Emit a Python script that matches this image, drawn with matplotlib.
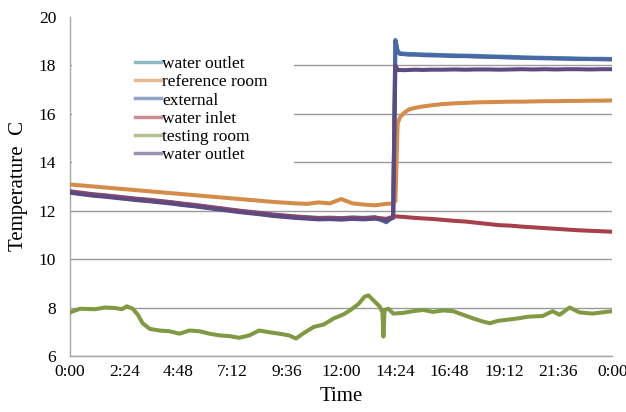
#!/usr/bin/env python3
import matplotlib
matplotlib.use('Agg')
import matplotlib.pyplot as plt
import matplotlib.patches as patches

matplotlib.rcParams['font.family'] = ['Liberation Serif', 'DejaVu Serif']

# time axis in hours (0:00 .. 0:00 next day)
hours = [0, 0.5, 1, 1.5, 2, 2.5, 3, 3.5, 4, 4.5, 5, 5.5, 6, 6.5, 7, 7.5, 8, 8.5, 9, 9.5,
         10, 10.5, 11, 11.5, 12, 12.5, 13, 13.5, 14, 14.3, 14.4, 14.5, 14.6, 14.8, 15.0,
         15.3, 15.6, 16, 16.5, 17, 17.5, 18, 18.5, 19, 19.5, 20, 20.5, 21, 21.5, 22,
         22.5, 23, 23.5, 24]

water_outlet = [12.76, 12.70, 12.64, 12.60, 12.55, 12.50, 12.45, 12.41, 12.36, 12.31,
                12.25, 12.20, 12.14, 12.08, 12.02, 11.96, 11.91, 11.86, 11.80, 11.76,
                11.72, 11.69, 11.66, 11.67, 11.65, 11.68, 11.66, 11.69, 11.64, 11.72,
                19.05, 18.60, 18.50, 18.48, 18.47, 18.46, 18.45, 18.44, 18.42, 18.41,
                18.40, 18.39, 18.37, 18.36, 18.35, 18.33, 18.32, 18.31, 18.30, 18.29,
                18.28, 18.27, 18.27, 18.26]

reference_room = [13.08, 13.04, 13.00, 12.96, 12.92, 12.88, 12.84, 12.80, 12.76, 12.72,
                  12.68, 12.64, 12.60, 12.56, 12.52, 12.48, 12.44, 12.40, 12.36, 12.33,
                  12.30, 12.28, 12.34, 12.30, 12.48, 12.30, 12.25, 12.22, 12.28, 12.30,
                  12.40, 15.60, 15.85, 16.05, 16.18, 16.25, 16.30, 16.35, 16.40, 16.43,
                  16.45, 16.47, 16.48, 16.49, 16.50, 16.50, 16.51, 16.52, 16.52, 16.53,
                  16.53, 16.54, 16.54, 16.55]

external = [12.80, 12.74, 12.68, 12.64, 12.59, 12.54, 12.49, 12.45, 12.40, 12.35,
            12.29, 12.24, 12.18, 12.12, 12.06, 12.00, 11.95, 11.90, 11.84, 11.80,
            11.76, 11.73, 11.70, 11.71, 11.69, 11.72, 11.70, 11.73, 11.52, 11.76,
            19.00, 18.55, 18.47, 18.46, 18.44, 18.44, 18.42, 18.41, 18.40, 18.38,
            18.38, 18.36, 18.35, 18.34, 18.32, 18.31, 18.30, 18.29, 18.28, 18.27,
            18.26, 18.26, 18.25, 18.24]

water_inlet = [12.78, 12.72, 12.66, 12.62, 12.57, 12.52, 12.47, 12.43, 12.38, 12.33,
               12.27, 12.22, 12.16, 12.10, 12.04, 11.98, 11.93, 11.88, 11.82, 11.78,
               11.74, 11.71, 11.68, 11.69, 11.67, 11.70, 11.68, 11.71, 11.66, 11.75,
               11.76, 11.76, 11.75, 11.74, 11.72, 11.70, 11.68, 11.66, 11.62, 11.58,
               11.55, 11.50, 11.45, 11.40, 11.38, 11.34, 11.31, 11.28, 11.25, 11.22,
               11.19, 11.17, 11.15, 11.13]

water_outlet2 = [12.74, 12.68, 12.62, 12.58, 12.53, 12.48, 12.43, 12.39, 12.34, 12.29,
                 12.23, 12.18, 12.12, 12.06, 12.00, 11.94, 11.89, 11.84, 11.78, 11.74,
                 11.70, 11.67, 11.64, 11.65, 11.63, 11.66, 11.64, 11.67, 11.60, 11.70,
                 18.00, 17.80, 17.81, 17.80, 17.81, 17.82, 17.81, 17.82, 17.82, 17.83,
                 17.82, 17.83, 17.83, 17.82, 17.83, 17.84, 17.83, 17.84, 17.83, 17.84,
                 17.84, 17.83, 17.84, 17.84]

# testing room has its own, finer time base
hours_test = [0, 0.44, 1.1, 1.54, 1.98, 2.29, 2.51, 2.77, 3.0, 3.21, 3.52, 3.96, 4.4,
              4.84, 5.28, 5.73, 6.17, 6.61, 7.05, 7.49, 7.93, 8.37, 8.81, 9.25, 9.69,
              10.0, 10.35, 10.79, 11.23, 11.67, 12.11, 12.42, 12.77, 13.04, 13.21, 13.48,
              13.7, 13.83, 13.87, 13.92, 14.09, 14.31, 14.75, 15.19, 15.63, 16.07, 16.52,
              16.96, 17.4, 17.84, 18.28, 18.58, 18.94, 19.38, 19.82, 20.26, 20.92, 21.36,
              21.67, 22.11, 22.55, 23.12, 23.56, 24]
testing_room = [7.80, 7.95, 7.93, 8.00, 7.98, 7.93, 8.05, 7.95, 7.70, 7.35, 7.12, 7.05,
                7.02, 6.92, 7.05, 7.02, 6.92, 6.85, 6.82, 6.75, 6.85, 7.05, 6.98, 6.92,
                6.85, 6.72, 6.95, 7.20, 7.30, 7.55, 7.72, 7.90, 8.15, 8.45, 8.50, 8.25,
                8.05, 7.80, 6.80, 7.90, 7.95, 7.75, 7.78, 7.85, 7.90, 7.82, 7.88, 7.85,
                7.70, 7.55, 7.42, 7.35, 7.45, 7.50, 7.55, 7.62, 7.65, 7.85, 7.70, 8.00,
                7.80, 7.75, 7.80, 7.85]

tick_hours = [0, 2.4, 4.8, 7.2, 9.6, 12, 14.4, 16.8, 19.2, 21.6, 24]
tick_labels = ['0:00', '2:24', '4:48', '7:12', '9:36', '12:00', '14:24',
               '16:48', '19:12', '21:36', '0:00']

fig = plt.figure(figsize=(6.26, 4.12), dpi=100)
ax = fig.add_axes([0.112, 0.136, 0.866, 0.823])

lw = 2.9
ax.plot(hours, water_outlet, color='#3f8f9f', lw=lw, label='water outlet', zorder=3)
ax.plot(hours, reference_room, color='#d48c48', lw=lw, label='reference room', zorder=3)
ax.plot(hours, external, color='#4a68a8', lw=lw, label='external', zorder=3)
ax.plot(hours, water_inlet, color='#a8404c', lw=lw, label='water inlet', zorder=3)
ax.plot(hours_test, testing_room, color='#7f9a42', lw=lw, label='testing room', zorder=3)
ax.plot(hours, water_outlet2, color='#5e4a82', lw=lw, label='water outlet', zorder=3)

ax.set_xlim(0, 24)
ax.set_ylim(6, 20)
ax.set_xticks(tick_hours)
ax.set_xticklabels(tick_labels)
ax.set_yticks(range(6, 21, 2))
ax.tick_params(axis='both', length=0, labelsize=12.5)
ax.tick_params(axis='y', pad=10)
ax.tick_params(axis='x', pad=6)

ax.yaxis.grid(True, color='#9a9a9a', lw=1.0, zorder=1)
ax.get_ygridlines()[-1].set_visible(False)
ax.set_axisbelow(True)
for s in ['top', 'right']:
    ax.spines[s].set_visible(False)
for s in ['left', 'bottom']:
    ax.spines[s].set_color('#a6a6a6')
    ax.spines[s].set_linewidth(1.0)

# white area behind the legend hides the gridlines there
ax.add_patch(patches.Rectangle((0.003, 0.55), 0.41, 0.45, transform=ax.transAxes,
                               facecolor='white', edgecolor='none', zorder=2))

leg = ax.legend(loc='upper left', bbox_to_anchor=(0.119, 0.885), frameon=False,
                fontsize=12.5, handlelength=1.5, handletextpad=0.1, labelspacing=0.12,
                borderpad=0, borderaxespad=0)
for h in leg.get_lines():
    h.set_linewidth(2.5)
    h.set_alpha(0.6)
leg.set_zorder(5)

ax.set_xlabel('Time', fontsize=15, labelpad=5)
ax.set_ylabel('Temperature  C', fontsize=15, labelpad=8)

fig.savefig('out.png', dpi=100)
